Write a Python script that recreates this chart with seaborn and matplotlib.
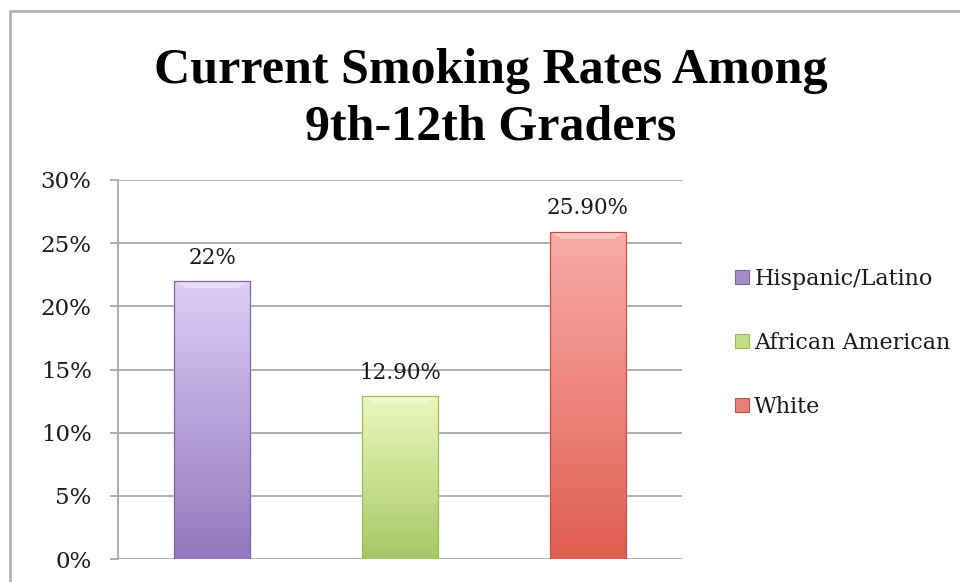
import numpy as np
import pandas as pd
import matplotlib
matplotlib.use("Agg")
import matplotlib.pyplot as plt
from matplotlib.lines import Line2D
from matplotlib.patches import Polygon
from matplotlib.colors import LinearSegmentedColormap
from matplotlib.ticker import FuncFormatter
import seaborn as sns

# Data
groups = ["Hispanic/Latino", "African American", "White"]
rates = [22.0, 12.9, 25.9]
rate_labels = ["22%", "12.90%", "25.90%"]
y_ticks = [0, 5, 10, 15, 20, 25, 30]

# Styling
base_colors = ["#8064a2", "#9bbb59", "#c0504d"]
top_colors = ["#dccdf6", "#ecf8bc", "#f9aca7"]
bottom_colors = ["#9478bd", "#a6c866", "#e05e52"]
grid_color = "#a8a8a8"
text_color = "#1a1a1a"

sns.set_theme(style="white")
plt.rcParams["font.family"] = ["DejaVu Serif"]

fig = plt.figure(figsize=(9.6, 5.82), dpi=100)
ax = fig.add_axes([118 / 960, 1 - 559 / 582, (682 - 118) / 960, (559 - 180) / 582])

df = pd.DataFrame({"group": groups, "rate": rates})
sns.barplot(data=df, x="group", y="rate", hue="group", order=groups,
            hue_order=groups, palette=base_colors, width=0.40,
            dodge=False, legend=False, ax=ax, saturation=1)

ax.set_xlim(-0.5, 2.5)
ax.set_ylim(0, 30)

# Vertical gradient fill inside each bar, with a light bevel at the top
for patch, c_top, c_bot, c_edge in zip(list(ax.patches), top_colors, bottom_colors, base_colors):
    x0, y0 = patch.get_x(), patch.get_y()
    w, h = patch.get_width(), patch.get_height()
    z = patch.get_zorder()
    cmap = LinearSegmentedColormap.from_list("g", [c_bot, c_top])
    grad = np.linspace(0, 1, 256).reshape(-1, 1)
    im = ax.imshow(grad, cmap=cmap, aspect="auto", origin="lower",
                   extent=(x0, x0 + w, y0, y0 + h), zorder=z + 0.1)
    im.set_clip_path(patch)
    bev_x, bev_y = 0.06, 0.55
    ax.add_patch(Polygon([(x0, y0 + h), (x0 + w, y0 + h),
                          (x0 + w - bev_x, y0 + h - bev_y), (x0 + bev_x, y0 + h - bev_y)],
                         closed=True, facecolor="white", alpha=0.35,
                         edgecolor="none", zorder=z + 0.15))
    ax.add_patch(plt.Rectangle((x0, y0), w, h, fill=False, edgecolor=c_edge,
                               linewidth=0.9, zorder=z + 0.2))

ax.set_xlim(-0.5, 2.5)
ax.set_ylim(0, 30)

# Value labels above bars
for i, (v, lab) in enumerate(zip(rates, rate_labels)):
    ax.annotate(lab, xy=(i, v), xytext=(0, 9), textcoords="offset points",
                ha="center", va="bottom", fontsize=15.5, color=text_color)

# Axes styling
ax.set_yticks(y_ticks)
ax.yaxis.set_major_formatter(FuncFormatter(lambda v, p: f"{int(v)}%"))
ax.yaxis.grid(True, color=grid_color, linewidth=1.3)
ax.set_axisbelow(True)
ax.set_xticks([])
ax.set_xlabel("")
ax.set_ylabel("")
for side in ["top", "right", "bottom"]:
    ax.spines[side].set_visible(False)
ax.spines["left"].set_color(grid_color)
ax.spines["left"].set_linewidth(1.3)
ax.tick_params(axis="y", which="major", left=True, direction="out",
               length=6, width=1.3, color=grid_color, pad=13,
               labelsize=16.5, labelcolor=text_color)

# Legend with small square markers
handles = [Line2D([0], [0], marker="s", linestyle="none", markersize=10,
                  markerfacecolor=c, markeredgecolor=e, markeredgewidth=0.8)
           for c, e in zip(["#a58ccb", "#c2de86", "#e8807a"], base_colors)]
fig.legend(handles, groups, loc="center left",
           bbox_to_anchor=(725 / 960, 1 - 343 / 582), frameon=False,
           fontsize=16, handlelength=0.7, handletextpad=0.22,
           labelspacing=1.9, borderaxespad=0, labelcolor=text_color)

# Title
fig.text(491 / 960, 1 - 99 / 582, "Current Smoking Rates Among\n9th-12th Graders",
         ha="center", va="center", fontsize=36, fontweight="bold",
         family=["Liberation Serif"], linespacing=1.3, color="#000000")

# Chart-area border (extends past the right and bottom edges)
bx, by = 10 / 960, 1 - 11 / 582
fig.add_artist(Line2D([bx, bx], [-0.05, by], transform=fig.transFigure,
                      color="#b3b3b3", linewidth=2))
fig.add_artist(Line2D([bx, 1.05], [by, by], transform=fig.transFigure,
                      color="#b3b3b3", linewidth=2))

fig.savefig("out.png", dpi=100, facecolor="white")
